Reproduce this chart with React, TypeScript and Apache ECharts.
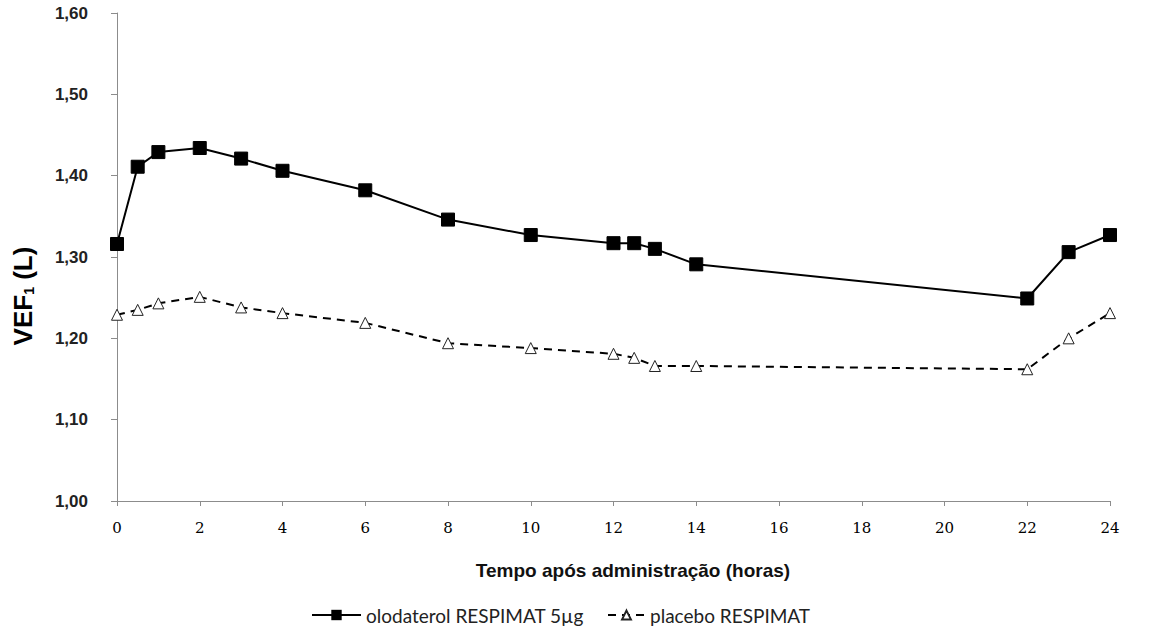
import React, { useEffect, useRef } from "react";
import * as echarts from "echarts";

const hours = [0, 0.5, 1, 2, 3, 4, 6, 8, 10, 12, 12.5, 13, 14, 22, 23, 24];
const olodaterol = [1.316, 1.411, 1.429, 1.434, 1.421, 1.406, 1.382, 1.346, 1.327, 1.317, 1.317, 1.31, 1.291, 1.249, 1.306, 1.327];
const placebo = [1.229, 1.235, 1.243, 1.251, 1.238, 1.231, 1.219, 1.194, 1.188, 1.181, 1.176, 1.166, 1.166, 1.162, 1.2, 1.231];
const seriesNames = ["olodaterol RESPIMAT 5µg", "placebo RESPIMAT"];
const xTitle = "Tempo após administração (horas)";

export default function App() {
  const ref = useRef<HTMLDivElement>(null);
  useEffect(() => {
    const chart = echarts.init(ref.current!, null, { renderer: "svg" });
    const legendText = { fontFamily: "Lato", fontSize: 19, color: "#222", lineHeight: 20 };
    chart.setOption({
      animation: false,
      backgroundColor: "#ffffff",
      grid: { left: 117, right: 47, top: 13, bottom: 129 },
      legend: [
        {
          top: 605,
          left: 311,
          padding: 0,
          itemWidth: 49,
          itemHeight: 13,
          itemGap: 4,
          textStyle: legendText,
          data: [seriesNames[0]],
        },
        {
          top: 605,
          left: 607,
          padding: 0,
          itemWidth: 37,
          itemHeight: 11,
          textStyle: legendText,
          data: [seriesNames[1]],
        },
      ],
      graphic: [
        {
          type: "text",
          x: 23,
          y: 296,
          rotation: Math.PI / 2,
          style: {
            text: "{a|VEF}{s|1}{a| (L)}",
            align: "center",
            verticalAlign: "middle",
            rich: {
              a: { fontFamily: "Liberation Sans", fontWeight: "bold", fontSize: 26, fill: "#000" },
              s: { fontFamily: "Liberation Sans", fontWeight: "bold", fontSize: 14, fill: "#000", verticalAlign: "bottom", padding: [12, 0, 0, 0] },
            },
          },
        },
        {
          type: "text",
          x: 633,
          y: 570,
          style: {
            text: xTitle,
            align: "center",
            verticalAlign: "middle",
            fontFamily: "Liberation Sans",
            fontWeight: "bold",
            fontSize: 19,
            fill: "#111",
          },
        },
      ],
      xAxis: {
        type: "value",
        min: 0,
        max: 24,
        interval: 2,
        axisLine: { show: true, lineStyle: { color: "#8c8c8c", width: 1 } },
        axisTick: { show: true, length: 5, lineStyle: { color: "#8c8c8c" } },
        axisLabel: { margin: 19, fontFamily: "DejaVu Serif", fontSize: 15, color: "#000" },
        splitLine: { show: false },
      },
      yAxis: {
        type: "value",
        min: 1,
        max: 1.6,
        interval: 0.1,
        axisLine: { show: true, lineStyle: { color: "#8c8c8c", width: 1 } },
        axisTick: { show: true, length: 6, lineStyle: { color: "#8c8c8c" } },
        axisLabel: {
          margin: 29,
          fontFamily: "Liberation Sans",
          fontWeight: "bold",
          fontSize: 17,
          color: "#222",
          formatter: (v: number) => v.toFixed(2).replace(".", ","),
        },
        splitLine: { show: false },
      },
      series: [
        {
          name: seriesNames[0],
          type: "line",
          data: hours.map((h, i) => [h, olodaterol[i]]),
          symbol: "rect",
          symbolSize: 13,
          itemStyle: { color: "#000", borderColor: "#000" },
          lineStyle: { color: "#000", width: 2 },
        },
        {
          name: seriesNames[1],
          type: "line",
          data: hours.map((h, i) => [h, placebo[i]]),
          symbol: "triangle",
          symbolSize: 11,
          itemStyle: { color: "#ffffff", borderColor: "#222", borderWidth: 1 },
          lineStyle: { color: "#000", width: 2, type: [8, 6] },
        },
      ],
    });
    return () => chart.dispose();
  }, []);
  return <div ref={ref} style={{ position: "absolute", left: 0, top: 0, width: 1157, height: 630 }} />;
}
